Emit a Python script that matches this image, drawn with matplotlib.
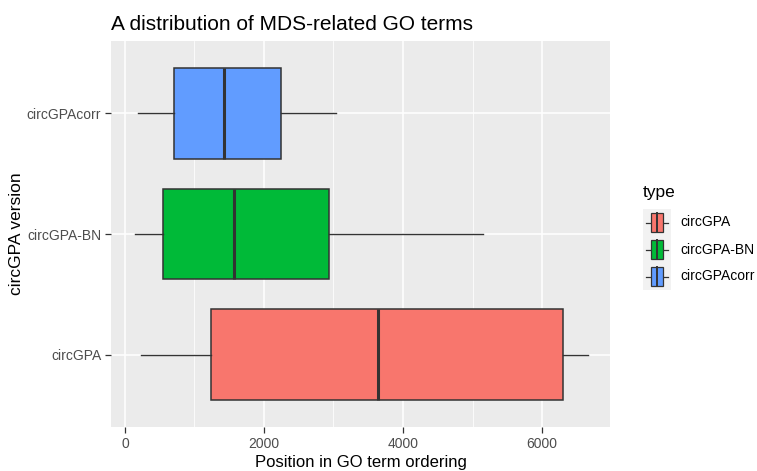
import matplotlib
matplotlib.use("Agg")
import matplotlib.pyplot as plt
from matplotlib.patches import Rectangle

plt.rcParams['font.family'] = ['Liberation Sans', 'DejaVu Sans']

# boxplot summaries per circGPA version (bottom to top)
types = ["circGPA", "circGPA-BN", "circGPAcorr"]
colors = ["#F8766D", "#00BA38", "#619CFF"]
whislo = [235, 139, 182]
q1 = [1233, 552, 700]
med = [3645, 1573, 1425]
q3 = [6307, 2940, 2245]
whishi = [6667, 5156, 3031]

x_ticks = [0, 2000, 4000, 6000]
x_minor = [1000, 3000, 5000]

fig = plt.figure(figsize=(7.57, 4.71), dpi=100)
ax = fig.add_axes([111 / 757, 44 / 471, 499 / 757, 386 / 471])
ax.set_facecolor("#EBEBEB")

stats = []
for i, name in enumerate(types):
    stats.append(dict(label=name, whislo=whislo[i], q1=q1[i], med=med[i],
                      q3=q3[i], whishi=whishi[i], fliers=[]))

positions = list(range(1, len(types) + 1))
bp = ax.bxp(stats, positions=positions, vert=False, widths=0.75,
            patch_artist=True, showcaps=False, zorder=3,
            boxprops=dict(edgecolor="#333333", linewidth=1.1),
            medianprops=dict(color="#333333", linewidth=2.2),
            whiskerprops=dict(color="#333333", linewidth=1.0))
for patch, c in zip(bp["boxes"], colors):
    patch.set_facecolor(c)

ax.set_xlim(-201, 6978)
ax.set_ylim(0.4, len(types) + 0.6)

ax.set_xticks(x_ticks)
ax.set_xticks(x_minor, minor=True)
ax.set_yticks(positions)
ax.set_yticklabels(types)
ax.grid(which="major", color="white", linewidth=1.1, zorder=0)
ax.grid(which="minor", axis="x", color="white", linewidth=0.55, zorder=0)
ax.set_axisbelow(True)
for s in ax.spines.values():
    s.set_visible(False)
ax.tick_params(which="major", length=4, width=0.9, color="#333333",
               labelcolor="#4D4D4D", labelsize=10, pad=3)
ax.tick_params(which="minor", length=0)

ax.set_xlabel("Position in GO term ordering", fontsize=12, labelpad=3)
ax.set_ylabel("circGPA version", fontsize=12.5, labelpad=2)
ax.set_title("A distribution of MDS-related GO terms", fontsize=15,
             loc="left", pad=8)

# legend drawn as small boxplot glyphs
fig.text(643 / 757, 1 - 193 / 471, "type", fontsize=12.5, va="center", ha="left")
lax = fig.add_axes([643 / 757, 1 - 290 / 471, 28 / 757, 81 / 471])
lax.set_xlim(0, 1)
lax.set_ylim(0, len(types))
lax.axis("off")
for i, name in enumerate(types):
    yc = len(types) - i - 0.5
    lax.add_patch(Rectangle((0, yc - 0.5), 1, 1, facecolor="#F2F2F2",
                            edgecolor="none"))
    lax.plot([0.12, 0.88], [yc, yc], color="#333333", lw=0.9)
    lax.add_patch(Rectangle((0.27, yc - 0.36), 0.46, 0.72, facecolor=colors[i],
                            edgecolor="#333333", lw=0.9, zorder=3))
    lax.plot([0.5, 0.5], [yc - 0.36, yc + 0.36], color="#333333", lw=1.4,
             zorder=4)
    fig.text(680 / 757, 1 - (222.5 + 27 * i) / 471, name, fontsize=10,
             va="center", ha="left")

fig.savefig("out.png", dpi=100)
